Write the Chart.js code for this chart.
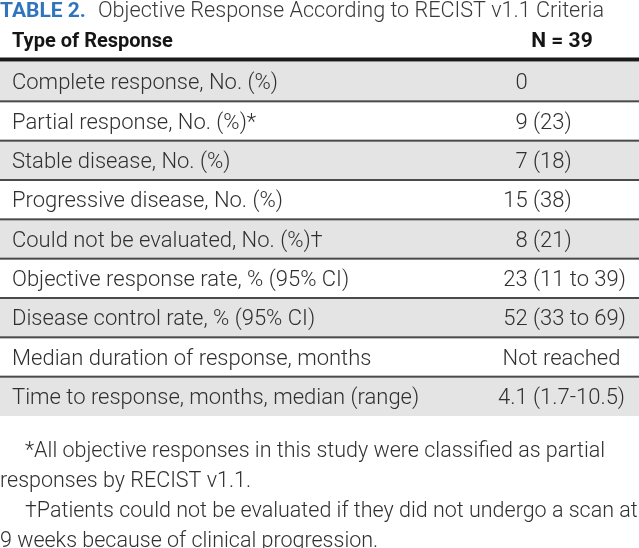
<!DOCTYPE html>
<html>
<head>
<meta charset="utf-8">
<script src="https://cdn.jsdelivr.net/npm/chart.js@4.4.0/dist/chart.umd.min.js"></script>
<style>
  html, body { margin: 0; padding: 0; background: #fff; }
  #wrap { position: relative; width: 639px; height: 548px; }
</style>
</head>
<body>
<div id="wrap"><canvas id="chartTabela"></canvas></div>
<script>
// Table 2 redrawn as a horizontal floating-bar chart: one stripe per row, text via plugin.

const tableTag = 'TABLE 2.';
const tableTitle = 'Objective Response According to RECIST v1.1 Criteria';
const columnHeaders = ['Type of Response', 'N = 39'];
const rowLabels = [
  'Complete response, No. (%)',
  'Partial response, No. (%)*',
  'Stable disease, No. (%)',
  'Progressive disease, No. (%)',
  'Could not be evaluated, No. (%)\u2020',
  'Objective response rate, % (95% CI)',
  'Disease control rate, % (95% CI)',
  'Median duration of response, months',
  'Time to response, months, median (range)'
];
const rowValues = ['0', '9 (23)', '7 (18)', '15 (38)', '8 (21)', '23 (11 to 39)', '52 (33 to 69)', 'Not reached', '4.1 (1.7-10.5)'];
const footnotes = [
  '*All objective responses in this study were classified as partial',
  'responses by RECIST v1.1.',
  '\u2020Patients could not be evaluated if they did not undergo a scan at',
  '9 weeks because of clinical progression.'
];

const PAGE_W = 639;
const LIGHT = '300 22px Roboto, "Liberation Sans", sans-serif';
const BOLD = 'bold 20px Roboto, "Liberation Sans", sans-serif';

// stripe spans the full width, grey on every other row
const stripes = rowLabels.map(() => [0, PAGE_W]);
const stripeColors = rowLabels.map((_, i) => (i % 2 === 0 ? '#e4e4e4' : '#ffffff'));

const tablePlugin = {
  id: 'tablePlugin',
  afterDatasetsDraw(chart) {
    const ctx = chart.ctx;
    const x = chart.scales.x;
    const y = chart.scales.y;
    const area = chart.chartArea;
    const half = (y.getPixelForValue(1) - y.getPixelForValue(0)) / 2;

    ctx.save();
    // thick rule under the header
    ctx.fillStyle = '#1a1a1a';
    ctx.fillRect(x.getPixelForValue(0), area.top - 4.5, PAGE_W, 4);
    // thin separators between rows
    ctx.fillStyle = '#4a4a4a';
    for (let i = 0; i < rowLabels.length - 1; i++) {
      const yy = y.getPixelForValue(i) + half;
      ctx.fillRect(x.getPixelForValue(0), yy - 1, PAGE_W, 2);
    }

    // title
    ctx.textBaseline = 'alphabetic';
    ctx.textAlign = 'left';
    ctx.font = 'bold 21px Roboto, "Liberation Sans", sans-serif';
    ctx.fillStyle = '#2f74bd';
    ctx.fillText(tableTag, 0, 17);
    ctx.font = '300 21.6px Roboto, "Liberation Sans", sans-serif';
    ctx.fillStyle = '#3a3a3a';
    ctx.fillText(tableTitle, 98, 17);

    // column headers
    ctx.font = BOLD;
    ctx.fillStyle = '#151515';
    ctx.fillText(columnHeaders[0], x.getPixelForValue(12), 47);
    ctx.textAlign = 'center';
    ctx.font = 'bold 21px Roboto, "Liberation Sans", sans-serif';
    ctx.fillText(columnHeaders[1], x.getPixelForValue(562), 47);

    // body rows
    ctx.font = LIGHT;
    ctx.fillStyle = '#303030';
    const parenX = x.getPixelForValue(533);
    const spaceW = ctx.measureText(' ').width;
    rowLabels.forEach((label, i) => {
      const base = y.getPixelForValue(i) + 7.7;
      ctx.textAlign = 'left';
      ctx.fillText(label, x.getPixelForValue(12), base);

      const val = rowValues[i];
      const idx = val.indexOf(' (');
      if (idx >= 0) {
        ctx.textAlign = 'right';
        ctx.fillText(val.slice(0, idx), parenX - spaceW, base);
        ctx.textAlign = 'left';
        ctx.fillText(val.slice(idx + 1), parenX, base);
      } else if (/^[\d.]+$/.test(val)) {
        ctx.textAlign = 'right';
        ctx.fillText(val, parenX - spaceW, base);
      } else {
        ctx.textAlign = 'center';
        ctx.fillText(val, x.getPixelForValue(561.5), base);
      }
    });

    // footnotes below the table
    ctx.textAlign = 'left';
    ctx.font = '300 21.5px Roboto, "Liberation Sans", sans-serif';
    ctx.fillStyle = '#303030';
    const noteX = [25, 0, 25, 0];
    footnotes.forEach((note, i) => {
      ctx.fillText(note, noteX[i], area.bottom + 41 + i * 30);
    });
    ctx.restore();
  }
};

document.addEventListener('DOMContentLoaded', function() {
  const el = document.getElementById('chartTabela');
  if (!el) {
    console.warn('[tabela] canvas chartTabela not found.');
    return;
  }
  new Chart(el, {
    type: 'bar',
    data: {
      labels: rowLabels,
      datasets: [{
        data: stripes,
        backgroundColor: stripeColors,
        borderWidth: 0,
        categoryPercentage: 1,
        barPercentage: 1
      }]
    },
    options: {
      indexAxis: 'y',
      responsive: true,
      maintainAspectRatio: false,
      animation: false,
      layout: { padding: { top: 62, bottom: 132, left: 0, right: 0 } },
      plugins: { legend: { display: false }, tooltip: { enabled: false }, title: { display: false } },
      scales: {
        x: { type: 'linear', min: 0, max: PAGE_W, display: false },
        y: { type: 'category', display: false }
      }
    },
    plugins: [tablePlugin]
  });
  console.log('[tabela] chart drawn.');
});
</script>
</body>
</html>
